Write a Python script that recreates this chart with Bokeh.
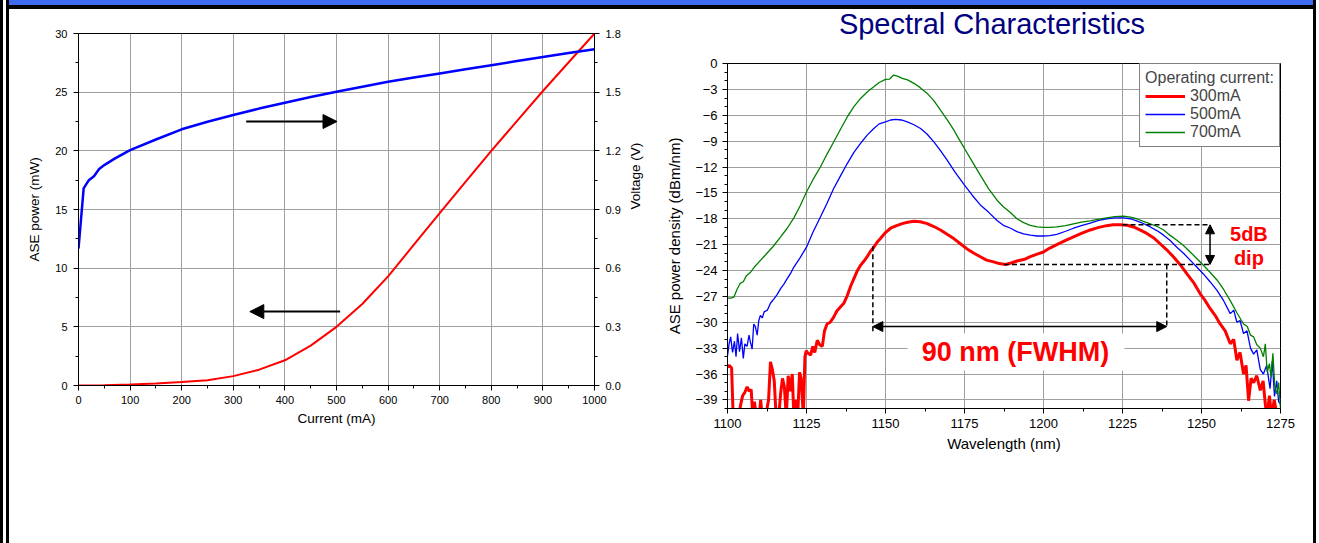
import math
from bokeh.plotting import figure
from bokeh.models import (Range1d, LinearAxis, FixedTicker, PrintfTickFormatter,
                          Arrow, NormalHead, Label, BoxAnnotation, Div)
from bokeh.layouts import row, column
from bokeh.embed import file_html
from bokeh.resources import INLINE

FONT = "Liberation Sans"

# ---------------- Left chart data ----------------
current_ma = [0, 50, 100, 150, 200, 250, 300, 350, 400, 450, 500, 550, 600, 650,
              700, 750, 800, 850, 900, 950, 1000]
ase_power_mw = [0.0, 0.03, 0.08, 0.17, 0.3, 0.45, 0.8, 1.35, 2.15, 3.4, 5.0, 6.95, 9.3,
                12.0, 14.7, 17.35, 20.0, 22.55, 25.1, 27.55, 30.0]
volt_current_ma = [0, 10, 20, 30, 40, 50, 70, 100, 150, 200, 250, 300, 350, 400, 450,
                   500, 550, 600, 650, 700, 750, 800, 850, 900, 950, 1000]
voltage_v = [0.70, 1.008, 1.05, 1.07, 1.107, 1.127, 1.16, 1.204, 1.258, 1.31, 1.349,
             1.383, 1.416, 1.446, 1.475, 1.502, 1.528, 1.553, 1.575, 1.596, 1.617,
             1.638, 1.659, 1.68, 1.70, 1.72]
current_ticks = [0, 100, 200, 300, 400, 500, 600, 700, 800, 900, 1000]
current_minor = [50, 150, 250, 350, 450, 550, 650, 750, 850, 950]
power_ticks = [0, 5, 10, 15, 20, 25, 30]
power_minor = [2.5, 7.5, 12.5, 17.5, 22.5, 27.5]
volt_ticks = [0.0, 0.3, 0.6, 0.9, 1.2, 1.5, 1.8]
volt_minor = [0.15, 0.45, 0.75, 1.05, 1.35, 1.65]
# arrows pointing to the axis of each curve (mA, mA, mW)
arrow_right = [325, 501, 22.5]
arrow_left = [507, 332, 6.3]

# ---------------- Right chart data ----------------
wl_300 = [1100.0, 1100.6, 1101.3, 1101.8, 1102.5, 1103.5, 1104.2, 1104.8, 1105.4, 1106.2,
          1106.9, 1107.5, 1108.0, 1108.5, 1109.2, 1110.0, 1110.5, 1111.0, 1112.0, 1113.0,
          1113.6, 1114.2, 1114.8, 1115.4, 1116.2, 1116.8, 1117.4, 1118.0, 1118.6, 1119.2,
          1119.8, 1120.5, 1121.0, 1121.6, 1122.2, 1122.8, 1123.3, 1124.0, 1124.5, 1124.9,
          1125.5, 1126.3, 1127.0, 1127.6, 1128.4, 1129.2, 1130.0, 1130.7, 1131.5, 1132.5,
          1133.6, 1134.6, 1135.8, 1136.8, 1137.9, 1139.0, 1140.0, 1141.0, 1142.1, 1143.2,
          1144.2, 1145.2, 1146.3, 1147.4, 1148.4, 1150.0, 1151.6, 1153.5, 1155.3, 1157.0,
          1159.0, 1161.0, 1163.2, 1165.3, 1167.4, 1169.5, 1171.6, 1173.7, 1175.8, 1178.0,
          1180.0, 1182.0, 1184.2, 1186.0, 1188.0, 1190.0, 1191.6, 1194.0, 1195.8, 1198.0,
          1200.0, 1202.0, 1204.2, 1207.0, 1209.5, 1212.0, 1214.8, 1217.5, 1220.0, 1222.0,
          1224.3, 1226.5, 1228.5, 1230.5, 1232.7, 1234.8, 1236.9, 1239.0, 1241.1, 1243.2,
          1245.4, 1247.5, 1249.6, 1251.0, 1252.7, 1254.3, 1255.9, 1257.5, 1259.1, 1260.2,
          1261.2, 1262.2, 1263.3, 1264.1, 1264.9, 1265.7, 1266.5, 1267.5, 1268.6, 1269.5,
          1270.2, 1270.7, 1271.5, 1272.2, 1273.0, 1274.0]
p_300 = [-35.2, -35.0, -35.3, -41, -41, -41, -39.5, -38.5, -38.2, -37.5,
         -38.0, -37.8, -41, -39.2, -41, -41, -39.0, -41, -41, -39.0,
         -34.6, -35.5, -36.8, -41, -41, -38.3, -36.5, -37.5, -41, -36.2,
         -38.0, -36.0, -41, -39.0, -41, -35.8, -36.5, -41, -34.0, -33.3,
         -33.6, -33.8, -32.8, -33.5, -32.1, -32.6, -32.8, -31.0, -30.2, -30.0,
         -29.4, -28.7, -28.2, -27.8, -26.9, -25.8, -24.95, -24.1, -23.4, -22.9,
         -22.4, -21.8, -21.3, -20.7, -20.3, -19.6, -19.1, -18.8, -18.56, -18.4,
         -18.3, -18.35, -18.56, -18.9, -19.3, -19.8, -20.3, -20.9, -21.5, -22.0,
         -22.4, -22.8, -23.0, -23.2, -23.3, -23.1, -22.9, -22.7, -22.4, -22.1,
         -21.85, -21.4, -21.0, -20.5, -20.1, -19.7, -19.3, -19.0, -18.8, -18.7,
         -18.7, -18.75, -18.95, -19.3, -19.7, -20.2, -20.9, -21.6, -22.4, -23.3,
         -24.4, -25.4, -26.7, -27.4, -28.4, -29.2, -30.2, -31.0, -32.5, -32.0,
         -34.4, -33.5, -36.0, -35.0, -39.1, -36.5, -37.0, -36.2, -37.9, -36.8,
         -39.5, -41, -38.5, -41, -39.0, -41]

wl_500 = [1100.0, 1100.5, 1101.0, 1101.6, 1102.2, 1102.7, 1103.2, 1103.8, 1104.4, 1105.0,
          1105.5, 1106.2, 1106.8, 1107.3, 1107.8, 1108.3, 1108.8, 1109.4, 1109.9, 1110.4,
          1111.0, 1111.6, 1112.6, 1113.6, 1114.7, 1115.7, 1116.8, 1117.8, 1118.9, 1120.0,
          1121.0, 1123.0, 1125.0, 1127.0, 1129.4, 1131.5, 1133.6, 1135.8, 1137.9, 1140.0,
          1142.1, 1144.2, 1146.3, 1148.0, 1150.0, 1151.6, 1153.2, 1155.0, 1156.9, 1159.0,
          1161.1, 1163.2, 1165.3, 1167.4, 1169.5, 1172.0, 1175.0, 1177.5, 1180.0, 1182.5,
          1185.3, 1187.3, 1189.6, 1191.6, 1193.7, 1195.8, 1198.0, 1200.0, 1202.0, 1204.2,
          1207.0, 1209.5, 1212.0, 1214.8, 1217.5, 1220.0, 1222.5, 1225.3, 1227.5, 1229.5,
          1231.6, 1233.8, 1236.0, 1238.0, 1240.0, 1242.2, 1244.3, 1246.4, 1248.5, 1250.6,
          1252.7, 1254.9, 1257.0, 1259.1, 1260.2, 1261.2, 1262.2, 1263.3, 1264.4, 1265.5,
          1266.5, 1267.5, 1268.6, 1269.6, 1270.6, 1271.7, 1272.4, 1273.1, 1273.8, 1274.4,
          1275.0]
p_500 = [-33.9, -32.5, -31.7, -33.5, -32.2, -34.0, -31.3, -33.4, -31.8, -34.2,
         -32.5, -32.8, -31.5, -32.4, -33.1, -30.2, -30.5, -31.5, -29.8, -29.2,
         -29.5, -28.8, -28.6, -27.8, -27.3, -26.8, -26.1, -25.6, -24.95, -24.3,
         -23.6, -22.5, -21.3, -19.6, -17.8, -16.2, -14.5, -13.0, -11.6, -10.3,
         -9.27, -8.3, -7.53, -7.0, -6.76, -6.55, -6.48, -6.55, -6.76, -7.1,
         -7.53, -8.2, -9.08, -10.1, -11.2, -12.6, -14.1, -15.3, -16.4, -17.2,
         -18.2, -18.76, -19.1, -19.5, -19.75, -19.9, -20.0, -20.0, -19.95, -19.8,
         -19.45, -19.1, -18.8, -18.5, -18.2, -18.0, -17.9, -17.9, -18.0, -18.25,
         -18.55, -18.95, -19.4, -19.9, -20.5, -21.3, -22.0, -22.8, -23.6, -24.4,
         -25.3, -26.3, -27.5, -29.0, -28.6, -30.0, -29.8, -31.3, -31.0, -33.0,
         -33.7, -33.2, -35.5, -36.0, -35.0, -37.7, -34.5, -38.6, -36.8, -39.2,
         -39.5]

wl_700 = [1100.0, 1101.0, 1102.0, 1103.0, 1104.0, 1105.0, 1106.0, 1107.3, 1108.5, 1110.0,
          1111.5, 1113.0, 1114.7, 1116.8, 1118.9, 1121.0, 1123.0, 1125.0, 1127.0, 1129.4,
          1131.5, 1133.6, 1135.8, 1137.9, 1140.0, 1142.1, 1144.2, 1146.3, 1148.0, 1150.0,
          1151.3, 1152.6, 1154.0, 1155.3, 1157.0, 1159.0, 1161.0, 1163.2, 1165.3, 1167.4,
          1169.5, 1171.6, 1173.3, 1175.0, 1177.5, 1180.0, 1182.6, 1185.3, 1187.3, 1189.6,
          1191.6, 1193.7, 1195.8, 1198.0, 1200.0, 1202.0, 1204.2, 1207.0, 1209.5, 1212.0,
          1214.8, 1217.5, 1220.0, 1222.5, 1225.3, 1227.5, 1229.5, 1231.6, 1233.8, 1236.0,
          1238.0, 1240.0, 1242.2, 1244.3, 1246.4, 1248.5, 1250.6, 1252.7, 1254.9, 1257.0,
          1259.1, 1261.2, 1263.3, 1264.5, 1265.5, 1266.5, 1267.5, 1268.6, 1269.6, 1270.2,
          1270.8, 1271.5, 1272.0, 1272.6, 1273.2, 1273.8, 1274.4, 1275.0]
p_700 = [-27.2, -27.2, -27.1, -26.2, -25.5, -25.3, -24.6, -24.2, -23.6, -23.0,
         -22.4, -21.8, -21.1, -20.1, -19.1, -17.9, -16.5, -14.9, -13.5, -12.0,
         -10.5, -9.1, -7.6, -6.2, -5.0, -4.05, -3.3, -2.7, -2.2, -1.84,
         -1.8, -1.34, -1.5, -1.72, -1.9, -2.3, -2.8, -3.47, -4.3, -5.4,
         -6.5, -7.7, -8.8, -9.85, -11.4, -12.95, -14.5, -15.85, -16.6, -17.3,
         -18.0, -18.45, -18.76, -18.95, -19.0, -19.0, -18.95, -18.8, -18.6, -18.4,
         -18.25, -18.05, -17.9, -17.75, -17.7, -17.8, -18.0, -18.3, -18.6, -18.9,
         -19.3, -19.9, -20.5, -21.1, -21.85, -22.6, -23.4, -24.2, -25.1, -26.2,
         -27.5, -28.9, -30.2, -30.5, -31.5, -31.7, -32.6, -33.0, -34.0, -32.5,
         -35.8, -34.8, -36.4, -33.6, -37.5, -38.3, -37.0, -39.9]

wl_ticks = [1100, 1125, 1150, 1175, 1200, 1225, 1250, 1275]
wl_minor = [1112.5, 1137.5, 1162.5, 1187.5, 1212.5, 1237.5, 1262.5]
dens_ticks = [0, -3, -6, -9, -12, -15, -18, -21, -24, -27, -30, -33, -36, -39]
dens_minor = [-v for v in range(0, 41)]

# FWHM / dip annotation values (nm, dBm/nm)
fwhm_left_nm = 1146.0
fwhm_right_nm = 1239.0
fwhm_arrow_level = -30.5
peak_level = -18.7
dip_level = -23.3
dip_start_nm = 1187.5
peak_start_nm = 1225.0
dip_marker_nm = 1252.7
dash_bottom = -31.2


def style_axis(ax, size):
    ax.axis_line_color = "black"
    ax.major_tick_line_color = "black"
    ax.minor_tick_line_color = "black"
    ax.major_tick_in = 0
    ax.major_tick_out = 5
    ax.minor_tick_in = 0
    ax.minor_tick_out = 3
    ax.major_label_text_font = FONT
    ax.major_label_text_font_size = size
    ax.major_label_text_color = "black"
    ax.axis_label_text_font = FONT
    ax.axis_label_text_font_style = "normal"
    ax.axis_label_text_color = "black"


TOP = 24
BOTTOM = 60

# ================= Left chart =================
p1 = figure(width=651, height=TOP + 352 + BOTTOM, x_range=Range1d(0, 1000), y_range=Range1d(0, 30),
            output_backend="svg", toolbar_location=None,
            min_border_left=69, min_border_right=66, min_border_top=TOP, min_border_bottom=BOTTOM)
p1.title.visible = False
p1.extra_y_ranges = {"v": Range1d(0, 1.8)}
p1.outline_line_color = "black"
p1.outline_line_alpha = 1

xt1 = FixedTicker(ticks=current_ticks, minor_ticks=current_minor)
yt1 = FixedTicker(ticks=power_ticks, minor_ticks=power_minor)
p1.xaxis.ticker = xt1
p1.yaxis.ticker = yt1
p1.xgrid.ticker = xt1
p1.ygrid.ticker = yt1
for g in (p1.xgrid, p1.ygrid):
    g.grid_line_color = "#a0a0a0"
    g.grid_line_width = 1

p1.xaxis.axis_label = "Current (mA)"
p1.yaxis.axis_label = "ASE power (mW)"
style_axis(p1.xaxis[0], "11px")
style_axis(p1.yaxis[0], "11px")
p1.xaxis.axis_label_text_font_size = "13.5px"
p1.yaxis.axis_label_text_font_size = "13.5px"
p1.xaxis.major_label_standoff = 5
p1.xaxis.axis_label_standoff = 4
p1.yaxis.major_label_standoff = 6
p1.yaxis.axis_label_standoff = 10

vax = LinearAxis(y_range_name="v", ticker=FixedTicker(ticks=volt_ticks, minor_ticks=volt_minor),
                 formatter=PrintfTickFormatter(format="%.1f"), axis_label="Voltage (V)")
style_axis(vax, "11px")
vax.axis_label_text_font_size = "13.5px"
vax.major_label_standoff = 6
vax.axis_label_standoff = 12
try:
    vax.axis_label_orientation = math.pi / 2
except Exception:
    pass
p1.add_layout(vax, "right")

p1.line(current_ma, ase_power_mw, line_color="#ff0000", line_width=2)
p1.line(volt_current_ma, voltage_v, line_color="#0000ff", line_width=2.5, y_range_name="v")

p1.add_layout(Arrow(end=NormalHead(size=14, fill_color="black", line_color="black"),
                    x_start=arrow_right[0], x_end=arrow_right[1],
                    y_start=arrow_right[2], y_end=arrow_right[2],
                    line_color="black", line_width=2))
p1.add_layout(Arrow(end=NormalHead(size=14, fill_color="black", line_color="black"),
                    x_start=arrow_left[0], x_end=arrow_left[1],
                    y_start=arrow_left[2], y_end=arrow_left[2],
                    line_color="black", line_width=2))

# ================= Right chart =================
p2 = figure(width=653, height=TOP + 345 + BOTTOM, x_range=Range1d(1100, 1275), y_range=Range1d(-40, 0),
            output_backend="svg", toolbar_location=None,
            min_border_left=67, min_border_right=33, min_border_top=TOP, min_border_bottom=BOTTOM)
p2.title.visible = False
p2.outline_line_color = "black"
p2.outline_line_alpha = 1

xt2 = FixedTicker(ticks=wl_ticks, minor_ticks=wl_minor)
yt2 = FixedTicker(ticks=dens_ticks, minor_ticks=dens_minor)
p2.xaxis.ticker = xt2
p2.yaxis.ticker = yt2
p2.xgrid.ticker = xt2
p2.ygrid.ticker = yt2
for g in (p2.xgrid, p2.ygrid):
    g.grid_line_color = "#a0a0a0"
    g.grid_line_width = 1

p2.xaxis.axis_label = "Wavelength (nm)"
p2.yaxis.axis_label = "ASE power density (dBm/nm)"
style_axis(p2.xaxis[0], "13px")
style_axis(p2.yaxis[0], "13px")
p2.xaxis.axis_label_text_font_size = "15px"
p2.yaxis.axis_label_text_font_size = "15px"
p2.xaxis.major_label_standoff = 5
p2.xaxis.axis_label_standoff = 4
p2.yaxis.major_label_standoff = 5
p2.yaxis.axis_label_standoff = 9

p2.line(wl_300, p_300, line_color="#ff0000", line_width=3, legend_label="300mA")
p2.line(wl_500, p_500, line_color="#0000ff", line_width=1.3, legend_label="500mA")
p2.line(wl_700, p_700, line_color="#008000", line_width=1.3, legend_label="700mA")

lg = p2.legend[0]
lg.title = "Operating current:"
lg.title_text_font = FONT
lg.title_text_font_size = "16px"
lg.title_text_font_style = "normal"
lg.title_standoff = 0
lg.label_text_font = FONT
lg.label_text_font_size = "16px"
lg.location = "top_right"
lg.margin = 0
lg.padding = 5
lg.spacing = 0
lg.label_height = 18
lg.glyph_height = 18
lg.glyph_width = 40
lg.label_standoff = 5
lg.border_line_color = "black"
lg.border_line_width = 1
lg.background_fill_alpha = 1

dash = "5 3"
p2.line([peak_start_nm, dip_marker_nm], [peak_level, peak_level], line_color="black",
        line_width=1.5, line_dash=dash)
p2.line([dip_start_nm, dip_marker_nm], [dip_level, dip_level], line_color="black",
        line_width=1.5, line_dash=dash)
p2.line([fwhm_left_nm, fwhm_left_nm], [-21.2, dash_bottom], line_color="black",
        line_width=1.5, line_dash=dash)
p2.line([fwhm_right_nm, fwhm_right_nm], [dip_level, fwhm_arrow_level], line_color="black",
        line_width=1.5, line_dash=dash)

p2.add_layout(Arrow(start=NormalHead(size=10, fill_color="black", line_color="black"),
                    end=NormalHead(size=10, fill_color="black", line_color="black"),
                    x_start=fwhm_left_nm, x_end=fwhm_right_nm,
                    y_start=fwhm_arrow_level, y_end=fwhm_arrow_level,
                    line_color="black", line_width=1.5))
p2.add_layout(Arrow(start=NormalHead(size=9, fill_color="black", line_color="black"),
                    end=NormalHead(size=9, fill_color="black", line_color="black"),
                    x_start=dip_marker_nm, x_end=dip_marker_nm,
                    y_start=peak_level, y_end=dip_level,
                    line_color="black", line_width=1.5))

p2.add_layout(BoxAnnotation(left=1157, right=1225.6, top=-31.3, bottom=-35.6,
                            fill_color="white", fill_alpha=1, line_alpha=0))
p2.add_layout(Label(x=1191.1, y=-33.5, text="90 nm (FWHM)", text_align="center",
                    text_baseline="middle", text_font=FONT, text_font_size="27px",
                    text_font_style="bold", text_color="#ff0000"))
p2.add_layout(Label(x=1265, y=-19.8, text="5dB", text_align="center",
                    text_baseline="middle", text_font=FONT, text_font_size="20px",
                    text_font_style="bold", text_color="#ff0000"))
p2.add_layout(Label(x=1265, y=-22.5, text="dip", text_align="center",
                    text_baseline="middle", text_font=FONT, text_font_size="20px",
                    text_font_style="bold", text_color="#ff0000"))

# ================= Page frame =================
title_div = Div(
    text=('<div style="width:653px;height:30px;line-height:30px;text-align:center;'
          'padding-left:11px;box-sizing:border-box;font-family:\'Liberation Sans\';'
          'font-size:29px;color:#000080;white-space:nowrap;">Spectral Characteristics</div>'),
    width=653, height=30, margin=0)
top_bar = Div(text="", width=1304, height=9, margin=0,
              styles={"background": "linear-gradient(to bottom, #3d6cf2 0px, #3d6cf2 5px, #000000 5px, #000000 9px)"})
left_edge = Div(text="", width=9, height=543, margin=0,
                styles={"background": "linear-gradient(to right, #000 0px, #000 3px, #fff 3px, #fff 6px, #000 6px, #000 9px)"})
right_edge = Div(text="", width=6, height=543, margin=0,
                 styles={"background": "linear-gradient(to right, #000 0px, #000 3px, #fff 3px, #fff 6px)"})

charts = row(column(p1, spacing=0), column(title_div, p2, spacing=0), spacing=0)
layout = row(left_edge, column(top_bar, charts, spacing=0), right_edge, spacing=0)

open("out.html", "w").write(file_html(layout, INLINE))
